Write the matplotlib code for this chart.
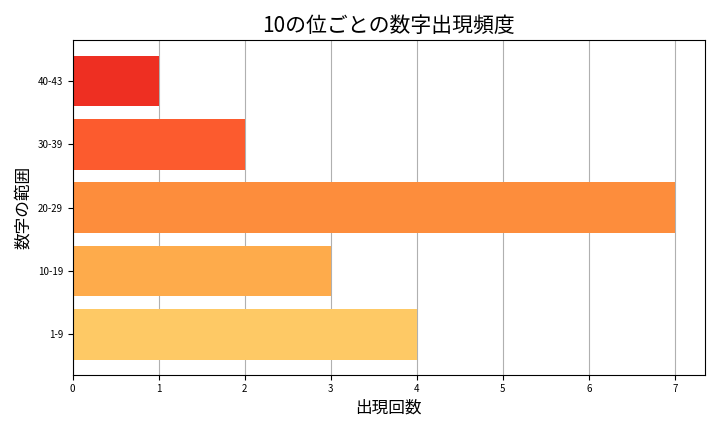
import matplotlib
matplotlib.use("Agg")
import matplotlib.pyplot as plt

plt.rcParams['font.family'] = 'Noto Sans CJK JP'

ranges = ['1-9', '10-19', '20-29', '30-39', '40-43']
counts = [4, 3, 7, 2, 1]
colors = ['#fec965', '#feab4b', '#fd8d3c', '#fc5b2e', '#ee2f22']

fig, ax = plt.subplots(figsize=(7.2, 4.32), dpi=100)
ax.barh(ranges, counts, color=colors, height=0.8)
ax.set_title('10の位ごとの数字出現頻度', fontsize=15)
ax.set_xlabel('出現回数', fontsize=12)
ax.set_ylabel('数字の範囲', fontsize=12)
ax.tick_params(labelsize=7)
ax.grid(True, axis='x')
ax.set_axisbelow(True)
plt.tight_layout()
plt.savefig('out.png')
